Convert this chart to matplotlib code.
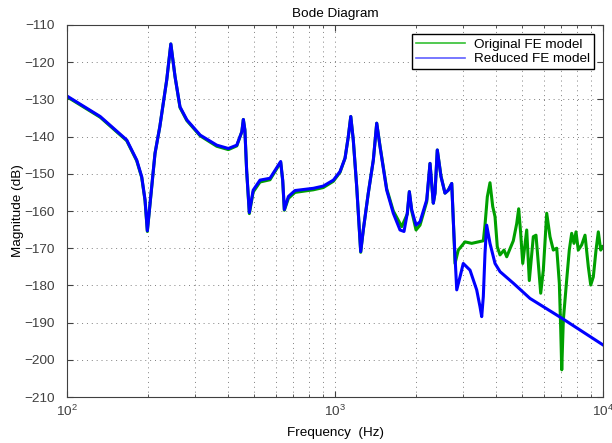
import matplotlib
matplotlib.use('Agg')
import matplotlib.pyplot as plt
import numpy as np
from matplotlib.lines import Line2D
from matplotlib.ticker import LogLocator, NullFormatter

plt.rcParams['font.family'] = ['Liberation Sans', 'DejaVu Sans']

# reduced model (blue), Hz / dB
f_red = [100, 133, 167, 182, 190, 195.5, 199.4, 213, 222, 235.5, 244, 253, 264, 280,
         314, 362, 400, 430, 449, 455, 461, 468, 479, 495, 525, 572, 627, 638, 647,
         670, 709, 830, 904, 986, 1044, 1090, 1121, 1145, 1170, 1205, 1247, 1275,
         1331, 1390, 1431, 1472, 1559, 1650, 1748, 1809, 1861, 1894, 1933, 2006,
         2076, 2199, 2262, 2327, 2361, 2408, 2486, 2573, 2647, 2726, 2780, 2846,
         2927, 3010, 3190, 3378, 3475, 3527, 3576, 3628, 3681, 3787, 3954, 4128,
         4627, 5341, 7015, 10000]
mag_red = [-129.1, -134.6, -140.9, -146.3, -150.8, -157.0, -165.3, -144.5, -137.3,
           -124.8, -115.1, -123.9, -132.0, -135.5, -139.6, -142.3, -143.2, -142.3,
           -138.7, -135.4, -138.2, -149.0, -160.4, -154.4, -151.7, -151.2, -146.7,
           -151.7, -159.6, -156.1, -154.5, -153.9, -153.3, -151.7, -149.4, -145.8,
           -140.0, -134.6, -140.9, -153.5, -170.9, -165.1, -155.2, -146.3, -136.4,
           -142.7, -154.4, -160.6, -165.1, -165.5, -160.6, -154.8, -159.7, -163.8,
           -162.9, -157.0, -147.2, -157.9, -155.2, -143.6, -150.8, -155.2, -154.4,
           -152.6, -166.9, -181.2, -177.7, -174.1, -175.9, -181.2, -185.7, -188.4,
           -183.0, -171.4, -163.8, -168.7, -174.1, -176.3, -179.4, -183.5, -188.8,
           -196.0]

# original model (green), Hz / dB
f_orig = [100, 133, 167, 182, 190, 195.5, 199.4, 213, 222, 235.5, 244, 253, 264, 280,
          314, 362, 400, 430, 449, 455, 461, 468, 479, 495, 525, 572, 627, 638, 647,
          670, 709, 830, 904, 986, 1044, 1090, 1121, 1145, 1170, 1205, 1247, 1275,
          1331, 1390, 1431, 1472, 1559, 1650, 1774, 1861, 1894, 1933, 2006,
          2076, 2199, 2262, 2327, 2361, 2408, 2486, 2573, 2647, 2726, 2780, 2804,
          2884, 3055, 3236, 3576, 3628, 3701, 3787, 3877, 3954, 4032, 4128, 4272,
          4372, 4627, 4764, 4846, 4931, 5017, 5192, 5309, 5495, 5623, 5736, 5855,
          5988, 6166, 6342, 6525, 6719, 6871, 6955, 7015, 7112, 7320, 7485, 7641,
          7794, 7929, 8086, 8327, 8568, 8815, 8999, 9202, 9417, 9605, 9804, 9975]
mag_orig = [-129.3, -134.8, -141.1, -146.5, -151.0, -157.2, -165.5, -144.5, -137.3,
            -124.8, -115.1, -123.9, -132.2, -135.7, -139.8, -142.6, -143.5, -142.5,
            -138.7, -135.4, -138.2, -149.2, -160.7, -154.9, -152.2, -151.6, -146.9,
            -151.9, -159.8, -156.6, -155.0, -154.3, -153.7, -152.0, -149.6, -145.8,
            -140.0, -134.6, -140.9, -153.5, -171.1, -165.1, -155.2, -146.3, -136.4,
            -142.5, -154.0, -160.0, -164.2, -160.8, -154.8, -160.0, -165.1,
            -163.8, -157.5, -147.2, -157.9, -155.2, -143.6, -150.6, -155.2, -154.4,
            -152.6, -166.9, -174.1, -170.5, -168.3, -168.7, -168.0, -163.8, -156.2,
            -152.4, -158.8, -161.5, -169.6, -171.8, -170.5, -172.3, -168.0, -163.4,
            -159.4, -166.1, -174.1, -165.1, -178.7, -166.9, -166.5, -174.1, -182.1,
            -175.9, -160.6, -166.9, -170.5, -170.0, -179.4, -192.0, -202.7, -189.3,
            -178.5, -170.5, -166.0, -168.7, -165.6, -170.5, -169.1, -166.5, -175.0,
            -179.9, -177.7, -170.5, -165.6, -170.5, -169.6]

fs = 9.7

fig = plt.figure(figsize=(6.12, 4.43), dpi=100)
ax = fig.add_axes([0.1095, 0.1038, 0.8758, 0.8398])

ax.semilogx(f_orig, mag_orig, color='#00a000', lw=2.2)
ax.semilogx(f_red, mag_red, color='#0000ff', lw=2.2)

ax.set_xlim(100, 10000)
ax.set_ylim(-210, -110)
ax.set_yticks(np.arange(-210, -109, 10))
ax.xaxis.set_minor_locator(LogLocator(base=10, subs=np.arange(2, 10)))
ax.xaxis.set_minor_formatter(NullFormatter())

gstyle = dict(linestyle=(0, (1, 4)), color='#808080', lw=0.7)
ax.grid(True, which='major', **gstyle)
ax.grid(True, which='minor', axis='x', **gstyle)
ax.tick_params(which='both', direction='in', top=True, right=True,
               labelsize=fs, colors='#404040')
ax.tick_params(which='major', length=4)
ax.tick_params(which='minor', length=2)
ax.tick_params(axis='y', pad=9)
ax.tick_params(axis='x', pad=5)
for s in ax.spines.values():
    s.set_color('#404040')

ax.set_title('Bode Diagram', fontsize=fs, pad=6)
ax.set_xlabel('Frequency  (Hz)', fontsize=fs, labelpad=6)
ax.set_ylabel('Magnitude (dB)', fontsize=fs, labelpad=0)

handles = [Line2D([], [], color='#33c033', lw=1.2),
           Line2D([], [], color='#6060ff', lw=1.2)]
leg = ax.legend(handles, ['Original FE model', 'Reduced FE model'], loc='upper right',
                fontsize=fs, fancybox=False, framealpha=1, edgecolor='black',
                handlelength=3.7, handletextpad=0.6, borderaxespad=0.7,
                borderpad=0.3, labelspacing=0.15)
leg.get_frame().set_linewidth(1.0)

fig.savefig('out.png', dpi=100)
